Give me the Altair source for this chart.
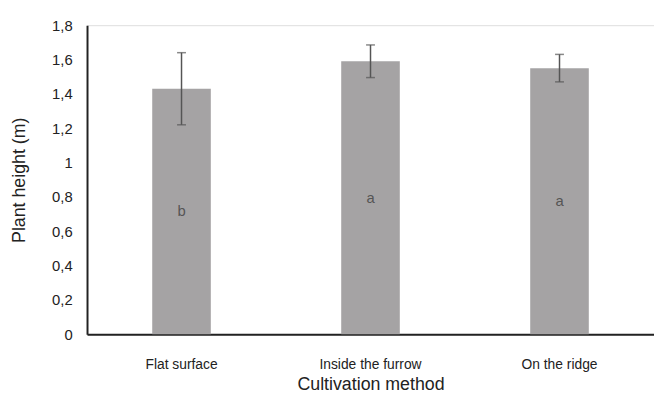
import altair as alt
import pandas as pd

methods = ["Flat surface", "Inside the furrow", "On the ridge"]
heights = [1.43, 1.59, 1.55]
errors = [0.21, 0.095, 0.08]
letters = ["b", "a", "a"]
y_ticks = [0, 0.2, 0.4, 0.6, 0.8, 1.0, 1.2, 1.4, 1.6, 1.8]

df = pd.DataFrame({
    "method": methods,
    "height": heights,
    "err": errors,
    "letter": letters,
})
df["lo"] = df["height"] - df["err"]
df["hi"] = df["height"] + df["err"]
df["mid"] = df["height"] / 2

FONT = "Liberation Sans"

xscale = alt.Scale(paddingInner=0.69, paddingOuter=0.345)
xaxis = alt.Axis(
    labelAngle=0, labelFontSize=14, labelColor="#222", labelFont=FONT,
    labelPadding=24, ticks=False, domainColor="#222", domainWidth=2,
    titleFontSize=18, titleFont=FONT, titleColor="#222", titleFontWeight="normal",
    titlePadding=4,
)
yscale = alt.Scale(domain=[0, 1.8], nice=False)
yaxis = alt.Axis(
    values=y_ticks,
    labelExpr="replace(format(datum.value, '.1~f'), '.', ',')",
    labelOverlap=False,
    labelFontSize=15, labelColor="#222", labelFont=FONT, labelPadding=15,
    ticks=False, grid=False, domainColor="#222", domainWidth=2,
    titleFontSize=18, titleFont=FONT, titleColor="#222", titleFontWeight="normal",
    titlePadding=23,
)

XT = "Cultivation method"
YT = "Plant height (m)"


def xo():
    return alt.X("method:N", sort=methods, scale=xscale, axis=xaxis, title=XT)


def yo(field):
    return alt.Y(field, scale=yscale, axis=yaxis, title=YT)


base = alt.Chart(df)

bars = base.mark_bar(color="#a5a3a4").encode(x=xo(), y=yo("height:Q"))

rules = base.mark_rule(color="#555", strokeWidth=1.5).encode(
    x=xo(), y=yo("lo:Q"), y2="hi:Q",
)
caps_hi = base.mark_tick(color="#555", size=9, thickness=1.5, orient="horizontal").encode(
    x=xo(), y=yo("hi:Q"),
)
caps_lo = base.mark_tick(color="#555", size=9, thickness=1.5, orient="horizontal").encode(
    x=xo(), y=yo("lo:Q"),
)
labels = base.mark_text(color="#555", fontSize=15, font=FONT, baseline="middle").encode(
    x=xo(), y=yo("mid:Q"), text="letter:N",
)

chart = alt.layer(bars, rules, caps_hi, caps_lo, labels).properties(
    width=574,
    height=313,
    autosize=alt.AutoSizeParams(type="none"),
    padding={"left": 80, "top": 15, "right": 0, "bottom": 60},
).configure_view(stroke=None).configure(background="white")

chart.save("out.html", embed_options={"renderer": "svg", "actions": False})
